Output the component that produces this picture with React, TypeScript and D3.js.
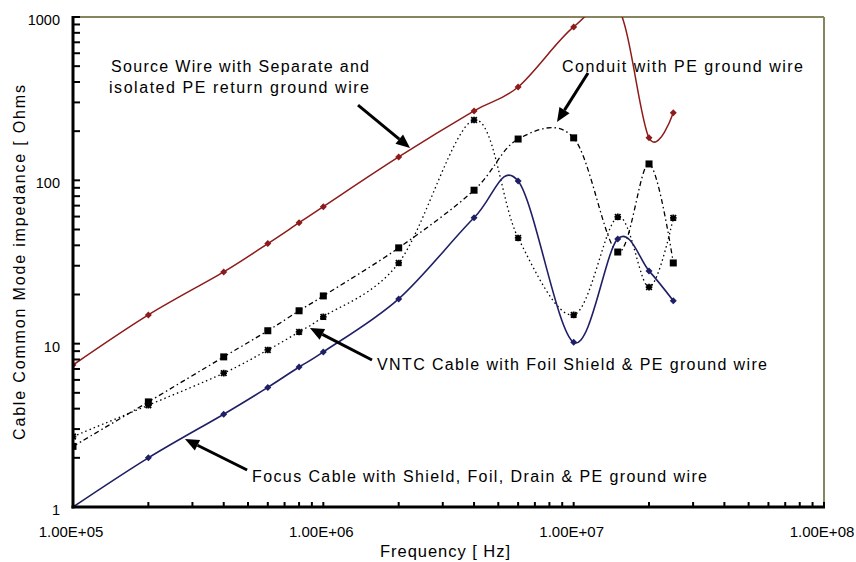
import React from "react";
import * as d3 from "d3";

// ---- data ----
const freqs = [1e5, 2e5, 4e5, 6e5, 8e5, 1e6, 2e6, 4e6, 6e6, 1e7, 1.5e7, 2e7, 2.5e7];
const sourceWire = [7.4, 15, 27.5, 41, 55, 69, 139, 266, 373, 870, 1150, 182, 259];
const focusCable = [1.0, 2.0, 3.7, 5.4, 7.2, 8.9, 18.8, 59, 99, 10.2, 43.8, 27.9, 18.3];
const conduit = [2.35, 4.4, 8.3, 12.0, 15.9, 19.6, 38.6, 87, 179, 182, 36.4, 126, 31.2];
const vntc = [2.7, 4.2, 6.6, 9.15, 11.8, 14.6, 31.2, 234, 44.4, 15, 59.7, 22.2, 58.9];

const xTickLabels = ["1.00E+05", "1.00E+06", "1.00E+07", "1.00E+08"];
const yTickLabels = ["1", "10", "100", "1000"];

const xTitle = "Frequency [ Hz]";
const yTitle = "Cable Common Mode impedance [ Ohms";

// annotation arrows in data space: [fromFreq, fromVal, toFreq, toVal]
const arrowSource = [1.376e6, 289, 2.22e6, 157.8];
const arrowConduit = [1.141e7, 454, 8.58e6, 227.6];
const arrowVntc = [1.565e6, 7.94, 8.84e5, 12.47];
const arrowFocus = [4.96e5, 1.685, 2.8e5, 2.608];

const FONT = "'Liberation Sans', Arial, sans-serif";

function isDecade(v: number) {
  const l = Math.log10(v);
  return Math.abs(l - Math.round(l)) < 1e-9;
}

export default function App() {
  const W = 856, H = 562;
  const left = 73, right = 824, top = 17, bottom = 507;
  const x = d3.scaleLog().domain([1e5, 1e8]).range([left, right]);
  const y = d3.scaleLog().domain([1, 1000]).range([bottom, top]);

  const lineGen = d3
    .line<number>()
    .x((_, i) => x(freqs[i]))
    .y((d) => y(d))
    .curve(d3.curveCardinal.tension(0));

  const xTicks = x.ticks();
  const yTicks = y.ticks();
  const xMajors = xTicks.filter(isDecade);
  const yMajors = yTicks.filter(isDecade);

  const red = "#8e1b1b";
  const navy = "#1f1f66";
  const olive = "#85855f";

  const arrow = (a: number[], key: string) => {
    const x1 = x(a[0]), y1 = y(a[1]), x2 = x(a[2]), y2 = y(a[3]);
    const ang = Math.atan2(y2 - y1, x2 - x1);
    const hl = 14, hw = 6;
    const bx = x2 - hl * Math.cos(ang), by = y2 - hl * Math.sin(ang);
    const px = -Math.sin(ang), py = Math.cos(ang);
    return (
      <g key={key}>
        <line x1={x1} y1={y1} x2={bx} y2={by} stroke="#000" strokeWidth={3} />
        <polygon
          points={`${x2},${y2} ${bx + px * hw},${by + py * hw} ${bx - px * hw},${by - py * hw}`}
          fill="#000"
        />
      </g>
    );
  };

  const diamond = (cx: number, cy: number, r: number) =>
    `M${cx},${cy - r}L${cx + r},${cy}L${cx},${cy + r}L${cx - r},${cy}Z`;
  const star = (cx: number, cy: number, r: number) =>
    `M${cx - r},${cy - r}L${cx + r},${cy + r}M${cx - r},${cy + r}L${cx + r},${cy - r}M${cx},${cy - r - 0.5}L${cx},${cy + r + 0.5}M${cx - r - 0.5},${cy}L${cx + r + 0.5},${cy}`;

  return (
    <svg
      width={W}
      height={H}
      style={{ position: "absolute", left: 0, top: 0, background: "#fff" }}
      fontFamily={FONT}
    >
      <defs>
        <clipPath id="plotClip">
          <rect x={left} y={top} width={right - left} height={bottom - top} />
        </clipPath>
      </defs>
      <rect x={0} y={0} width={W} height={H} fill="#fff" />

      {/* top and right frame */}
      <line x1={left} y1={top} x2={right} y2={top} stroke={olive} strokeWidth={2} />
      <line x1={right} y1={top} x2={right} y2={bottom} stroke={olive} strokeWidth={2} />

      <g clipPath="url(#plotClip)">
        <path d={lineGen(conduit) || ""} fill="none" stroke="#000" strokeWidth={1.3} strokeDasharray="5,3,1.5,3" />
        <path d={lineGen(vntc) || ""} fill="none" stroke="#000" strokeWidth={1.3} strokeDasharray="1.5,3" />
        <path d={lineGen(focusCable) || ""} fill="none" stroke={navy} strokeWidth={1.6} />
        <path d={lineGen(sourceWire) || ""} fill="none" stroke={red} strokeWidth={1.5} />

        {conduit.map((v, i) => (
          <rect key={"c" + i} x={x(freqs[i]) - 3.5} y={y(v) - 3.5} width={7} height={7} fill="#000" />
        ))}
        {vntc.map((v, i) => (
          <path key={"v" + i} d={star(x(freqs[i]), y(v), 2.8)} stroke="#000" strokeWidth={1.8} fill="none" />
        ))}
        {focusCable.map((v, i) => (
          <path key={"f" + i} d={diamond(x(freqs[i]), y(v), 3.5)} fill={navy} />
        ))}
        {sourceWire.map((v, i) => (
          <path key={"s" + i} d={diamond(x(freqs[i]), y(v), 3.5)} fill={red} />
        ))}
      </g>

      {/* axes */}
      <line x1={left} y1={top - 1} x2={left} y2={bottom + 1.5} stroke="#000" strokeWidth={3} />
      <line x1={left - 1.5} y1={bottom} x2={right + 1} y2={bottom} stroke="#000" strokeWidth={3} />
      {yTicks.map((t, i) => (
        <line key={"yt" + i} x1={left} x2={left + 7} y1={y(t)} y2={y(t)} stroke="#000" strokeWidth={2} />
      ))}
      {xTicks.map((t, i) => (
        <line key={"xt" + i} x1={x(t)} x2={x(t)} y1={bottom} y2={bottom - 5} stroke="#000" strokeWidth={2} />
      ))}

      {yMajors.map((t, i) => (
        <text key={"yl" + i} x={left - 13} y={y(t) + 8} textAnchor="end" fontSize={14.5} fill="#000">
          {yTickLabels[i]}
        </text>
      ))}
      {xMajors.map((t, i) => (
        <text key={"xl" + i} x={x(t) - 2} y={537} textAnchor="middle" fontSize={15} fill="#000">
          {xTickLabels[i]}
        </text>
      ))}

      <text x={445} y={557} textAnchor="middle" fontSize={16.5} textLength={130} lengthAdjust="spacing">
        {xTitle}
      </text>
      <text
        transform="translate(25,262.5) rotate(-90)"
        textAnchor="middle"
        fontSize={16}
        textLength={355}
        lengthAdjust="spacing"
      >
        {yTitle}
      </text>

      {/* annotations */}
      <g fontSize={16} fill="#000">
        <text x={111} y={72} textLength={258} lengthAdjust="spacing">Source Wire with Separate and</text>
        <text x={109} y={93} textLength={260} lengthAdjust="spacing">isolated PE return ground wire</text>
        <text x={562} y={72} textLength={241} lengthAdjust="spacing">Conduit with PE ground wire</text>
        <text x={377} y={370} textLength={390} lengthAdjust="spacing">VNTC Cable with Foil Shield &amp; PE ground wire</text>
        <text x={252} y={482} textLength={455} lengthAdjust="spacing">Focus Cable with Shield, Foil, Drain &amp; PE ground wire</text>
      </g>
      {arrow(arrowSource, "a1")}
      {arrow(arrowConduit, "a2")}
      {arrow(arrowVntc, "a3")}
      {arrow(arrowFocus, "a4")}
    </svg>
  );
}
